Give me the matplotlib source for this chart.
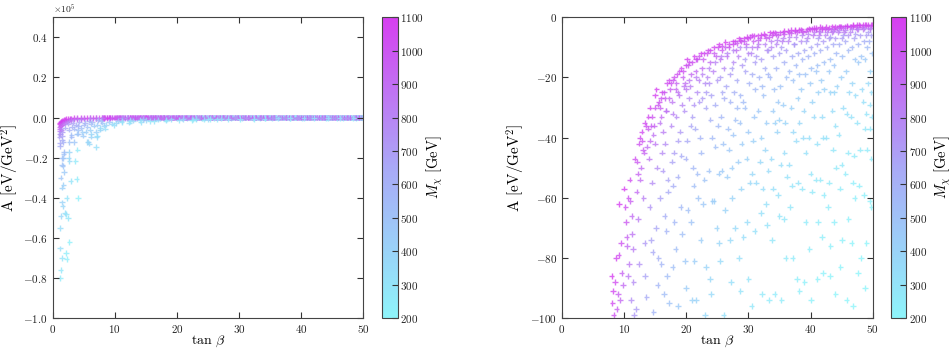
import numpy as np
import matplotlib.pyplot as plt
from matplotlib.colors import LinearSegmentedColormap, Normalize

plt.rcParams['font.family'] = 'serif'
plt.rcParams['font.serif'] = ['cmr10', 'DejaVu Serif']
plt.rcParams['mathtext.fontset'] = 'cm'
plt.rcParams['axes.formatter.use_mathtext'] = True
plt.rcParams['axes.formatter.limits'] = [-3, 4]

# scan points visible in the zoomed panel (tan beta, A in eV/GeV^2, M_chi in GeV)
tanb_zoom = [
    8.0, 8.2, 8.1, 8.5, 8.3, 9.0, 8.8, 9.3,
    9.1, 8.7, 9.5, 9.2, 9.6, 9.8,
    10.0, 10.2, 10.3, 10.5, 10.8, 10.6, 10.4,
    10.9, 10.7, 11.0, 11.2, 11.3, 11.4, 11.5, 11.1, 11.6,
    11.7, 12.1, 12.2, 12.6, 12.0, 12.2, 12.4, 11.9,
    12.5, 12.8, 13.0, 13.2, 13.1, 13.3, 13.4, 13.6,
    13.3, 13.8, 14.2, 14.0, 14.5, 14.1, 14.3, 14.6, 14.7,
    14.1, 14.5, 14.8, 15.0, 15.3, 15.1, 15.5, 15.4,
    15.0, 15.2, 15.6, 15.8, 16.0, 16.3, 16.1, 16.2, 15.8, 16.5, 16.0, 16.4,
    16.1, 16.5, 16.8, 16.6, 17.0, 17.1, 16.8, 16.9, 17.2,
    17.2, 17.5, 17.3, 17.8, 17.6, 18.0, 17.7, 17.9, 18.1, 18.3, 17.8,
    18.0, 18.5, 18.3, 18.8, 18.4, 19.0, 18.7, 19.2, 18.6, 19.1, 19.3, 18.7,
    19.2, 19.5, 19.8, 19.3, 20.0, 19.7, 20.1, 19.9, 20.2, 19.8, 20.0,
    20.1, 20.5, 20.8, 20.4, 21.0, 20.7, 21.1, 21.2, 20.8, 21.3, 20.9,
    21.3, 21.8, 21.5, 22.0, 21.7, 22.1, 21.4, 22.2, 21.8, 21.9, 22.3, 21.6,
    22.3, 22.8, 22.5, 23.0, 22.6, 23.1, 22.4, 22.9, 22.7, 23.2, 23.0,
    23.5, 23.8, 23.4, 23.7, 24.0, 23.9, 24.1, 23.6, 24.2, 23.8, 24.0,
    24.5, 24.8, 24.3, 25.0, 24.6, 25.1, 24.7, 25.2, 24.4, 24.9, 25.3,
    25.3, 25.7, 25.5, 26.0, 25.8, 26.1, 25.6, 25.9, 25.7, 26.2, 25.4, 26.0,
    26.3, 26.8, 26.5, 27.0, 26.4, 27.1, 26.7, 26.9, 27.3, 26.6, 27.4, 27.0, 27.2,
    27.5, 27.8, 28.0, 27.6, 28.1, 27.7, 28.2, 27.9, 27.5, 28.3, 27.8, 28.5,
    28.5, 28.8, 28.4, 29.0, 28.7, 29.1, 28.6, 28.9, 28.8, 29.2, 28.7,
    29.3, 29.8, 29.6, 30.0, 29.5, 30.1, 29.4, 29.9, 29.7, 30.2, 29.8, 30.0,
    30.5, 30.8, 30.4, 31.0, 30.6, 31.1, 30.9, 30.7, 30.6, 31.2, 31.0, 30.5,
    31.5, 31.8, 31.4, 32.0, 31.7, 32.2, 31.6, 32.1, 31.9, 32.3, 32.0, 32.2,
    32.5, 32.8, 33.0, 32.6, 33.1, 32.4, 32.9, 32.7, 33.2, 32.8, 33.0, 33.3,
    33.5, 33.8, 33.6, 34.0, 33.4, 34.1, 33.9, 34.2, 33.7, 34.0, 33.8, 34.2,
    34.3, 34.8, 34.5, 35.0, 34.4, 35.1, 34.7, 34.9, 34.6, 35.2, 34.8, 35.0, 35.3,
    35.5, 35.8, 35.4, 36.0, 35.7, 36.1, 35.6, 35.9, 35.8, 36.2, 35.7, 36.0,
    36.5, 36.8, 36.4, 37.0, 36.6, 37.1, 36.9, 37.2, 36.5, 37.0, 36.7, 37.1,
    37.5, 37.8, 37.4, 38.0, 37.6, 38.1, 37.9, 38.2, 37.7, 38.0, 37.8, 38.2,
    38.5, 38.8, 38.4, 39.0, 38.7, 39.1, 38.5, 38.9, 38.8, 39.2, 38.6, 39.2, 39.0,
    39.5, 39.8, 39.4, 40.0, 39.6, 40.1, 39.9, 40.2, 39.7, 40.0, 40.2, 39.8, 40.1,
    40.5, 40.8, 40.4, 41.0, 40.6, 41.1, 40.9, 41.2, 40.5, 41.0, 40.8, 41.2, 41.1,
    41.5, 41.8, 41.4, 42.0, 41.6, 42.1, 41.7, 42.2, 41.8, 42.0, 41.6, 42.1, 41.8, 42.0,
    42.5, 42.8, 42.4, 43.0, 42.6, 43.1, 42.9, 43.2, 42.5, 43.0, 42.8, 43.2, 43.1,
    43.5, 43.8, 43.4, 44.0, 43.6, 44.1, 43.7, 44.2, 43.8, 43.5, 44.0, 43.6, 44.1, 43.8, 44.0,
    44.5, 44.8, 44.4, 45.0, 44.6, 45.1, 44.9, 45.2, 44.5, 45.0, 44.7, 45.1, 44.8,
    45.5, 45.8, 45.4, 46.0, 45.6, 46.1, 45.7, 46.2, 45.8, 46.0, 45.6, 46.1, 45.8,
    46.5, 46.8, 46.4, 47.0, 46.6, 47.1, 46.7, 47.2, 46.5, 47.0, 46.8, 47.1, 46.6, 46.8,
    47.5, 47.8, 47.4, 48.0, 47.6, 48.1, 47.7, 48.2, 47.5, 48.0, 47.8, 48.1, 47.6,
    48.5, 48.8, 48.4, 49.0, 48.6, 49.1, 48.7, 49.2, 48.5, 49.0, 48.8, 49.1, 48.6, 49.0, 48.8,
    49.3, 49.7, 49.5, 49.8, 49.4, 49.9, 49.6, 49.8, 49.5, 49.9, 49.6, 49.8, 49.5, 49.8,
]
a_zoom = [
    -86, -91, -95, -88, -99, -92, -97, -94,
    -79, -80, -75, -62, -85, -89,
    -57, -63, -68, -76, -82, -86, -73,
    -54, -60, -61, -66, -72, -77, -88, -94, -99,
    -47, -48, -52, -54, -58, -67, -82, -97,
    -40, -38, -44, -45, -60, -75, -86, -93,
    -35, -37, -41, -47, -55, -63, -74, -78, -98,
    -30, -33, -36, -42, -50, -70, -80, -89,
    -26, -24, -28, -30, -33, -38, -45, -51, -60, -66, -82, -92,
    -25, -27, -31, -42, -54, -58, -71, -86, -95,
    -21, -22, -27, -32, -36, -45, -48, -56, -68, -77, -83,
    -20, -19, -24, -26, -33, -38, -41, -46, -53, -63, -72, -96,
    -17, -18, -22, -29, -24, -31, -41, -47, -64, -81, -90,
    -14, -15, -19, -27, -33, -36, -50, -56, -68, -81, -94,
    -13, -14, -18, -21, -25, -28, -37, -40, -52, -60, -74, -94,
    -12, -12, -17, -22, -27, -30, -45, -54, -62, -83, -99,
    -11, -15, -20, -22, -26, -34, -40, -51, -61, -87, -92,
    -10, -13, -18, -21, -29, -36, -43, -52, -61, -70, -75,
    -9, -11, -14, -17, -25, -27, -33, -42, -51, -64, -81, -99,
    -8.3, -10, -13, -19, -23, -28, -37, -44, -50, -53, -60, -74, -88,
    -9, -8, -11, -15, -21, -25, -30, -34, -39, -48, -70, -80,
    -7, -8, -13, -16, -26, -28, -35, -42, -57, -73, -91,
    -7, -6.5, -9, -12, -18, -22, -30, -38, -47, -55, -68, -87,
    -6, -8, -12, -15, -19, -24, -33, -41, -52, -55, -71, -96,
    -6, -7, -10, -14, -20, -23, -31, -40, -48, -57, -65, -92,
    -5.5, -7, -11, -17, -19, -26, -35, -44, -51, -62, -69, -94,
    -5, -6, -10, -13, -20, -24, -31, -35, -47, -57, -74, -92,
    -5, -6, -9, -12, -17, -23, -28, -34, -38, -49, -59, -66, -94,
    -5, -4.5, -8, -11, -15, -20, -29, -35, -45, -53, -67, -80,
    -5, -4.3, -8, -13, -18, -21, -30, -38, -49, -56, -63, -80,
    -4.1, -5, -9, -12, -16, -19, -27, -35, -41, -55, -87, -91,
    -4, -5, -8, -11, -14, -19, -24, -31, -40, -45, -57, -68, -88,
    -4, -3.7, -7, -10, -13, -17, -22, -28, -40, -52, -58, -77, -94,
    -3.5, -4, -6, -9, -12, -16, -18, -25, -33, -42, -54, -68, -87,
    -3.3, -4, -6, -8, -11, -15, -21, -24, -33, -40, -54, -59, -73, -85,
    -3.2, -4, -6, -7, -10, -14, -18, -25, -40, -55, -63, -76, -86,
    -3, -4, -5, -7, -9, -12, -16, -23, -25, -31, -36, -44, -50, -68, -92,
    -3, -3, -5, -7, -9, -13, -20, -30, -39, -49, -57, -74, -83,
    -3, -3, -5, -6, -8, -11, -18, -25, -32, -45, -52, -67, -94,
    -3, -2.6, -5, -7, -10, -14, -22, -26, -33, -46, -55, -60, -75, -96,
    -2.6, -2.5, -4, -6, -9, -13, -15, -24, -35, -44, -56, -80, -85,
    -2.5, -2.4, -4, -6, -8, -10, -14, -22, -28, -32, -37, -44, -59, -75, -90,
    -2.4, -2.5, -4, -6, -8, -12, -18, -25, -29, -33, -37, -47, -61, -63,
]
m_zoom = [
    1100, 1060, 1050, 1040, 1010, 960, 960, 920,
    1035, 1065, 1010, 1100, 945, 910,
    1100, 1025, 990, 910, 850, 845, 945,
    1040, 1005, 965, 905, 870, 830, 770, 760, 715,
    1035, 990, 940, 905, 910, 840, 745, 700,
    1050, 1050, 965, 935, 825, 720, 670, 635,
    1050, 990, 915, 865, 770, 735, 675, 650, 575,
    1075, 995, 935, 855, 765, 660, 600, 575,
    1085, 1100, 1005, 960, 905, 830, 775, 715, 680, 620, 575, 530,
    1040, 970, 890, 770, 665, 640, 585, 530, 495,
    1050, 1010, 925, 825, 790, 690, 675, 625, 560, 520, 510,
    1030, 1030, 925, 865, 780, 710, 690, 640, 610, 550, 510, 455,
    1050, 1005, 890, 800, 850, 750, 650, 605, 515, 465, 440,
    1100, 1050, 915, 780, 690, 665, 560, 525, 485, 435, 405,
    1085, 1015, 910, 825, 765, 715, 635, 590, 530, 490, 435, 400,
    1080, 1055, 900, 770, 710, 660, 550, 490, 465, 395, 365,
    1065, 900, 790, 750, 680, 600, 545, 495, 440, 375, 360,
    1075, 930, 805, 725, 625, 555, 510, 455, 430, 395, 380,
    1095, 970, 870, 775, 645, 615, 565, 490, 450, 400, 355, 320,
    1100, 980, 870, 705, 655, 580, 510, 465, 430, 425, 395, 355, 325,
    1010, 1055, 895, 775, 645, 600, 540, 510, 480, 425, 355, 325,
    1100, 1020, 805, 715, 565, 540, 490, 440, 380, 335, 305,
    1070, 1095, 935, 800, 665, 590, 510, 450, 405, 375, 340, 295,
    1100, 955, 785, 690, 620, 545, 470, 420, 375, 360, 320, 280,
    1075, 990, 835, 695, 585, 540, 470, 410, 375, 340, 320, 270,
    1090, 955, 760, 620, 575, 500, 425, 380, 350, 320, 305, 255,
    1100, 1005, 785, 675, 555, 500, 440, 410, 360, 325, 285, 255,
    1085, 970, 800, 685, 585, 495, 450, 405, 390, 335, 310, 290, 245,
    1050, 1100, 825, 695, 600, 515, 435, 390, 345, 315, 285, 260,
    1015, 1090, 805, 620, 535, 490, 410, 365, 325, 300, 285, 250,
    1100, 985, 740, 630, 550, 500, 420, 370, 345, 295, 235, 230,
    1080, 960, 765, 640, 575, 490, 440, 380, 340, 320, 285, 255, 225,
    1050, 1085, 795, 655, 580, 505, 445, 390, 330, 290, 270, 240, 215,
    1095, 1015, 835, 675, 590, 505, 480, 405, 355, 310, 275, 245, 215,
    1100, 990, 815, 700, 600, 510, 435, 405, 345, 310, 270, 255, 230, 215,
    1095, 970, 800, 730, 615, 515, 455, 385, 310, 260, 245, 220, 210,
    1100, 945, 855, 715, 635, 545, 475, 395, 380, 345, 315, 285, 265, 230, 200,
    1080, 1070, 835, 695, 620, 510, 415, 335, 300, 265, 245, 215, 205,
    1055, 1050, 815, 735, 645, 545, 430, 360, 320, 270, 250, 220, 200,
    1030, 1100, 800, 670, 565, 470, 380, 345, 310, 260, 240, 230, 210, 200,
    1085, 1100, 875, 705, 585, 480, 450, 355, 295, 260, 230, 200, 200,
    1085, 1100, 855, 690, 605, 535, 455, 360, 325, 300, 280, 255, 225, 200, 200,
    1090, 1060, 840, 680, 590, 480, 395, 335, 310, 290, 275, 245, 215, 210,
]

# extra points in the dense upper band of the zoomed panel
tanb_band = [
    12.4, 12.9, 13.5, 13.9, 14.4, 14.9, 15.4, 15.9, 16.4, 16.9, 17.4, 17.9, 18.4, 18.9, 19.4, 19.9,
    12.7, 13.7, 14.7, 15.7, 16.7, 17.7, 18.6, 19.6, 20.4,
    20.3, 20.9, 21.5, 22.1, 22.7, 23.3, 23.9, 24.5, 25.1, 25.7, 26.3, 26.9, 27.5, 28.1, 28.7, 29.3, 29.9,
    20.6, 21.6, 22.6, 23.6, 24.6, 25.6, 26.6, 27.6, 28.6, 29.6, 21.2, 23.2, 25.4, 27.3, 29.4,
    30.3, 30.9, 31.5, 32.1, 32.7, 33.3, 33.9, 34.5, 35.1, 35.7, 36.3, 36.9, 37.5, 38.1, 38.7, 39.3, 39.9,
    30.6, 31.6, 32.6, 33.6, 34.6, 35.6, 36.6, 37.6, 38.6, 39.6, 31.2, 33.2, 35.3, 37.3, 39.3,
    40.3, 40.9, 41.3, 41.9, 42.3, 42.9, 43.3, 43.9, 44.3, 44.9, 45.3, 45.9, 46.3, 46.9, 47.3, 47.9,
    48.3, 48.9, 49.3, 49.9,
    40.6, 41.6, 42.6, 43.6, 44.6, 45.6, 46.6, 47.6, 48.6, 49.6, 41.2, 43.2, 45.2, 47.2, 49.2,
]
a_band = [
    -42, -41, -36, -33, -36, -30, -29, -27, -25, -22, -24, -21, -22, -18, -20, -16,
    -50, -43, -39, -35, -31, -28, -25, -23, -21,
    -16, -15, -14, -13, -14, -12, -11, -12, -10, -9.5, -10, -8.8, -8, -8.5, -7.5, -8, -7,
    -23, -20, -19, -17, -15, -13, -12, -11, -10, -10, -29, -25, -20, -17, -14,
    -6.5, -6.2, -7.5, -5.8, -6, -6.5, -5.2, -5.6, -5, -5.5, -4.6, -5.2, -4.5, -4.2, -4.6, -4.4, -4,
    -10, -9, -9, -8, -7.5, -7, -6.5, -6.5, -6, -5.5, -13, -11, -10, -9, -8,
    -3.8, -3.6, -4.5, -3.5, -3.8, -3.4, -4, -3.2, -3.5, -3.2, -3.6, -2.9, -3.3, -2.8, -3.2, -2.7,
    -3.1, -2.6, -3, -2.4,
    -5, -5, -5, -4.5, -4.3, -4.2, -4, -3.8, -3.6, -3.5, -7, -6.5, -6, -5.5, -5,
]
m_band = [
    1020, 1000, 1020, 1060, 960, 1010, 990, 1000, 990, 1040, 960, 990, 940, 1030, 950, 1030,
    900, 890, 880, 860, 870, 860, 870, 860, 850,
    1000, 1010, 1030, 1010, 960, 1020, 1030, 960, 1030, 1020, 960, 1030, 1060, 980, 1040, 960, 1020,
    830, 830, 810, 800, 810, 820, 810, 800, 800, 780, 740, 700, 700, 690, 690,
    1040, 1040, 940, 1060, 1030, 960, 1060, 1000, 1040, 970, 1050, 970, 1030, 1060, 990, 1000, 1040,
    830, 840, 810, 820, 810, 810, 820, 800, 800, 810, 720, 720, 700, 700, 700,
    1040, 1060, 940, 1050, 1000, 1040, 960, 1060, 1000, 1030, 960, 1060, 1000, 1060, 990, 1060,
    990, 1070, 1000, 1080,
    860, 830, 820, 830, 820, 810, 810, 820, 820, 820, 720, 700, 690, 690, 700,
]

# points below -100 eV/GeV^2, only visible in the wide panel
tanb_wide = [
    1.1, 1.2, 1.3, 1.4, 1.5, 1.6, 1.8, 2.0, 2.2, 2.5, 2.8, 3.0, 3.5, 4.0, 4.5, 5.0, 5.5, 6.0, 6.5, 7.0, 7.5,
    1.1, 1.2, 1.3, 1.15, 1.25, 1.4, 1.5, 1.7, 2.0, 2.3, 2.6, 3.0, 3.5, 4.0, 4.5, 5.0, 6.0, 7.0, 8.0,
    1.18, 1.2, 1.5, 1.72, 2.68, 3.43, 5.58, 5.9, 6.97, 1.1, 1.5, 3.0, 4.1, 4.9, 6.2, 7.0, 7.6,
    1.18, 1.29, 1.5, 2.25, 2.15, 1.18, 2.68, 1.2, 1.29, 2.15, 2.47, 1.93, 1.6, 1.5, 2.25, 4.08,
    1.52, 1.72, 1.29, 2.9, 3.86, 1.8, 1.6, 1.55, 1.5, 1.72, 2.57, 3.65, 2.68, 3.97, 1.8, 1.75, 2.6,
    1.07, 1.5, 3.0, 4.08, 4.8, 6.2, 7.1, 7.6,
    2.0, 2.6, 3.1, 3.5, 4.1, 4.6, 5.0, 5.6, 6.1, 6.6, 7.2, 8.0, 8.6, 9.1, 10.2, 11.1, 12.3, 13.0,
    14.2, 15.1, 16.3, 17.0, 18.2, 19.1, 20.3, 21.0, 22.4, 23.1, 24.3, 25.0, 26.4, 27.1, 28.3,
    30.2, 32.4, 34.1, 36.3, 38.2, 40.4, 42.1, 44.3, 46.2, 48.4, 49.9,
    2.5, 3.2, 3.8, 4.3, 5.2, 5.8, 6.3, 7.3, 7.8, 8.2, 9.5, 10.5, 12.5, 14.5,
    6.0, 5.3, 3.86, 5.74, 7.08, 8.4, 9.8, 11.1, 12.4, 14.1, 15.7, 18.3, 22.6, 25.3,
]
a_wide = [
    -3000, -2500, -2200, -2000, -1800, -1500, -1200, -1000, -800, -600, -500, -400, -300, -250, -200, -180, -150,
    -130, -120, -110, -105,
    -4500, -5500, -4000, -6500, -8000, -6000, -3500, -3000, -2500, -2000, -1500, -1200, -900, -700, -600, -500,
    -350, -250, -200,
    -14300, -12700, -11000, -12200, -12300, -12300, -12300, -13000, -14700, -9500, -9000, -9500, -8000, -9000,
    -9500, -7000, -6000,
    -80000, -76000, -70000, -70500, -67700, -65300, -62000, -55000, -49000, -48000, -50000, -47700, -44300,
    -42300, -40000, -40000,
    -35000, -33500, -30000, -31700, -30700, -27300, -24300, -23500, -20300, -20300, -20000, -21700, -21700,
    -16000, -17300, -18000, -17300,
    -8000, -7300, -8700, -6000, -7300, -8000, -9000, -5300,
    -5000, -6000, -4500, -5500, -4000, -5000, -3500, -4500, -3000, -4000, -3500, -2500, -3500, -2000, -2800,
    -1800, -2500, -1500,
    -2200, -1200, -1800, -1000, -1500, -900, -1300, -700, -1200, -800, -1000, -600, -900, -500, -800,
    -700, -600, -500, -450, -400, -350, -300, -350, -300, -250, -250,
    -3000, -2500, -3500, -2000, -2500, -1500, -2000, -1200, -1800, -4000, -3000, -1500, -1000, -800,
    -6000, -7000, -8000, -12000, -9700, -5500, -3800, -2200, -1700, -1300, -1700, -1000, -1000, -800,
]
m_wide = [
    1100, 1100, 1080, 1100, 1060, 1100, 1080, 1100, 1100, 1100, 1080, 1100, 1100, 1080, 1100, 1060, 1100,
    1050, 1080, 1100, 1050,
    950, 900, 980, 850, 800, 850, 950, 900, 880, 850, 870, 850, 880, 870, 850, 860, 850, 870, 850,
    620, 650, 640, 600, 500, 480, 380, 370, 330, 700, 680, 560, 500, 450, 400, 420, 400,
    260, 280, 300, 230, 240, 330, 220, 340, 380, 300, 280, 320, 380, 400, 300, 220,
    420, 420, 480, 300, 250, 450, 480, 500, 520, 480, 380, 260, 350, 260, 520, 500, 400,
    720, 700, 520, 500, 430, 380, 330, 350,
    650, 600, 620, 560, 580, 520, 560, 500, 520, 460, 450, 480, 400, 470, 380, 420, 340, 400,
    320, 380, 300, 360, 290, 340, 280, 350, 270, 320, 260, 330, 250, 320, 250,
    240, 250, 240, 250, 230, 240, 230, 220, 230, 220, 220,
    700, 680, 620, 650, 600, 620, 560, 580, 520, 400, 380, 450, 460, 470,
    420, 430, 480, 380, 350, 330, 320, 310, 300, 300, 290, 280, 260, 250,
]

tanb = np.array(tanb_zoom + tanb_band + tanb_wide)
a_val = np.array(a_zoom + a_band + a_wide, dtype=float)
m_chi = np.array(m_zoom + m_band + m_wide, dtype=float)

cmap = LinearSegmentedColormap.from_list('mx', ['#8ef4fa', '#a9a9f6', '#d63ff0'])
norm = Normalize(vmin=200, vmax=1100)

fig = plt.figure(figsize=(9.52, 3.49), dpi=100)
bottom, height = 0.0888, 0.8616
ax1 = fig.add_axes([0.0553, bottom, 0.3263, height])
cax1 = fig.add_axes([0.4013, bottom, 0.0164, height])
ax2 = fig.add_axes([0.5903, bottom, 0.3264, height])
cax2 = fig.add_axes([0.9360, bottom, 0.0160, height])

for ax, cax in [(ax1, cax1), (ax2, cax2)]:
    ax.scatter(tanb, a_val, c=m_chi, cmap=cmap, norm=norm, marker='+',
               s=16, linewidths=1.0, alpha=0.8)
    ax.set_xlim(0, 50)
    ax.set_xticks([0, 10, 20, 30, 40, 50])
    ax.set_xlabel(r'$\tan\,\beta$', fontsize=10, labelpad=-1)
    ax.set_ylabel(r'A [eV/GeV$^2$]', fontsize=11, labelpad=2)
    ax.tick_params(direction='in', top=True, right=True, labelsize=8,
                   length=4, colors='#333333', labelcolor='#222222')
    for sp in ax.spines.values():
        sp.set_color('#444444')
    cb = fig.colorbar(plt.cm.ScalarMappable(norm=norm, cmap=cmap), cax=cax)
    cb.set_ticks(np.arange(200, 1101, 100))
    cb.ax.tick_params(direction='in', labelsize=8, length=4, colors='#333333',
                      labelcolor='#222222', pad=2)
    cb.outline.set_edgecolor('#444444')
    cb.set_label(r'$M_\chi$ [GeV]', fontsize=10.5, labelpad=0)

ax1.set_ylim(-1e5, 0.5e5)
ax1.set_yticks(np.arange(-1e5, 0.41e5, 0.2e5))
ax1.yaxis.get_offset_text().set_fontsize(7)

ax2.set_ylim(-100, 0)
ax2.set_yticks([-100, -80, -60, -40, -20, 0])

fig.savefig('out.png', dpi=100)
